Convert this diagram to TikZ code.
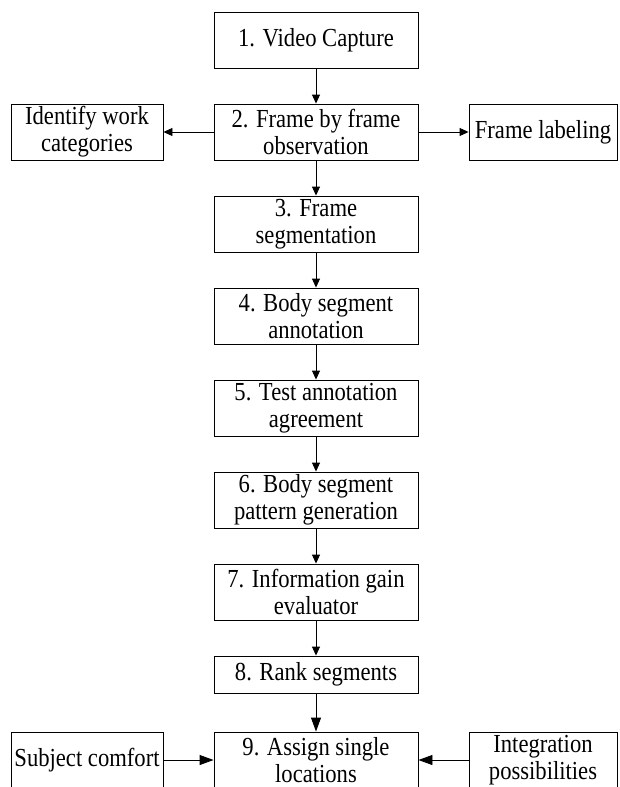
\documentclass[tikz,border=0pt]{standalone}
\usepackage{fontspec}
\setmainfont{Liberation Serif}[FakeStretch=0.87]
\usetikzlibrary{arrows.meta}
\begin{document}
\begin{tikzpicture}[x=1pt,y=-1pt,
  box/.style={draw, line width=0.9pt, inner sep=0pt, align=center,
    font=\fontsize{26}{27}\selectfont},
  mainbox/.style={box, minimum width=204pt, minimum height=56pt},
  sidebox/.style={box, minimum width=152pt, minimum height=56pt},
  conn/.style={line width=0.9pt, -{Triangle[length=9pt,width=8pt]}},
  bigconn/.style={line width=0.9pt, -{Triangle[length=14pt,width=10pt]}}]
\useasboundingbox (0,0) rectangle (619,787);
\node[mainbox] (n1) at (316,40) {1. Video Capture};
\node[mainbox] (n2) at (316,132) {2. Frame by frame\\observation};
\node[mainbox] (n3) at (316,224) {3. Frame\\segmentation};
\node[mainbox] (n4) at (316,316) {4. Body segment\\annotation};
\node[mainbox] (n5) at (316,408) {5. Test annotation\\agreement};
\node[mainbox] (n6) at (316,500) {6. Body segment\\pattern generation};
\node[mainbox] (n7) at (316,592) {7. Information gain\\evaluator};
\node[mainbox, minimum height=37pt] (n8) at (316,674.5) {8. Rank segments};
\node[mainbox] (n9) at (316,760) {9. Assign single\\locations};
\node[sidebox] (iw) at (87,132) {Identify work\\categories};
\node[sidebox, minimum width=148pt] (fl) at (543,132) {Frame labeling};
\node[sidebox] (sc) at (87,760) {Subject comfort};
\node[sidebox, minimum width=148pt] (ip) at (543,760) {Integration\\possibilities};
\draw[conn] (n1) -- (n2);
\draw[conn] (n2) -- (n3);
\draw[conn] (n3) -- (n4);
\draw[conn] (n4) -- (n5);
\draw[conn] (n5) -- (n6);
\draw[conn] (n6) -- (n7);
\draw[conn] (n7) -- (n8);
\draw[bigconn] (n8) -- (n9);
\draw[conn] (n2) -- (iw);
\draw[conn] (n2) -- (fl);
\draw[bigconn] (sc) -- (n9);
\draw[bigconn] (ip) -- (n9);
\end{tikzpicture}
\end{document}
